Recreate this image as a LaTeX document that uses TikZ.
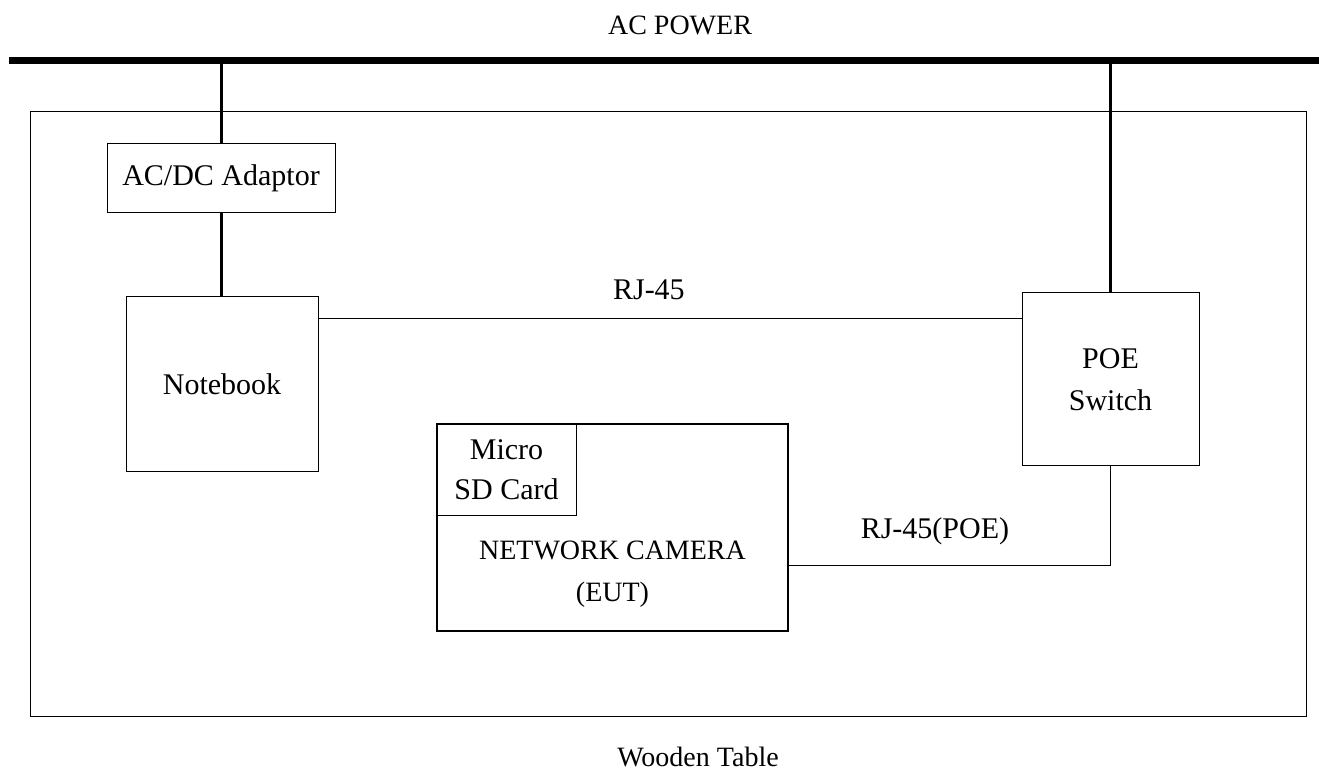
\documentclass[tikz,border=0pt]{standalone}
\usepackage{fontspec}
\setmainfont{Liberation Serif}
\usetikzlibrary{positioning, calc}

\begin{document}
\begin{tikzpicture}[x=0.5pt, y=-0.5pt,
    unit/.style={draw, line width=0.5pt, align=center, inner sep=0pt, font=\fontsize{15}{21}\selectfont},
    power/.style={line width=1.5pt},
    lan/.style={line width=0.5pt},
    lbl/.style={font=\fontsize{15}{18}\selectfont, text depth=0pt, inner sep=0pt},
    caption/.style={font=\fontsize{14}{17}\selectfont}
    ]
    \useasboundingbox (0,0) rectangle (1319,770);

    % AC power bus
    \coordinate (acL) at (9,61);
    \coordinate (acR) at (1319,61);
    \draw[line width=3.5pt] (acL) -- (acR);
    \node[caption] (acpower) at (680,25) {AC POWER};

    % wooden table
    \node[draw, line width=0.5pt, minimum width=638pt, minimum height=302pt, inner sep=0pt] (table) at (668,414) {};
    \node[caption] (wood) at (698,757) {Wooden Table};

    % units on the table
    \node[unit, minimum width=114pt, minimum height=34.5pt] (adaptor) at (221,178.5) {AC/DC Adaptor};
    \node[unit, minimum width=96pt, minimum height=87.5pt] (notebook) at (222,384.5) {Notebook};
    \node[unit, minimum width=88.5pt, minimum height=86.5pt] (poe) at (1110.5,379.5) {POE\\Switch};
    \node[unit, line width=1pt, minimum width=175.5pt, minimum height=103.5pt] (camera) at (612.5,527.5) {};
    \node[unit, minimum width=70pt, minimum height=46pt, anchor=north west, font=\fontsize{15}{20}\selectfont] (sdcard) at (camera.north west) {Micro\\SD Card};
    \node[align=center, font=\fontsize{14}{21}\selectfont] (camlabel) at (612.5,574) {NETWORK CAMERA\\(EUT)};

    % power cords
    \draw[power] (adaptor.north) -- (adaptor.north |- acL);
    \draw[power] (adaptor.south) -- (adaptor.south |- notebook.north);
    \draw[power] (poe.north) -- (poe.north |- acL);

    % network cables
    \draw[lan] ([yshift=-11pt]notebook.north east) -- ([yshift=-11pt]notebook.north east -| poe.west)
        node[lbl, pos=0.47, above=9pt] (rj) {RJ-45};
    \draw[lan] ([yshift=-19.25pt]camera.east) -| (poe.south)
        node[lbl, pos=0.227, above=13.5pt] (rjpoe) {RJ-45(POE)};
\end{tikzpicture}
\end{document}
